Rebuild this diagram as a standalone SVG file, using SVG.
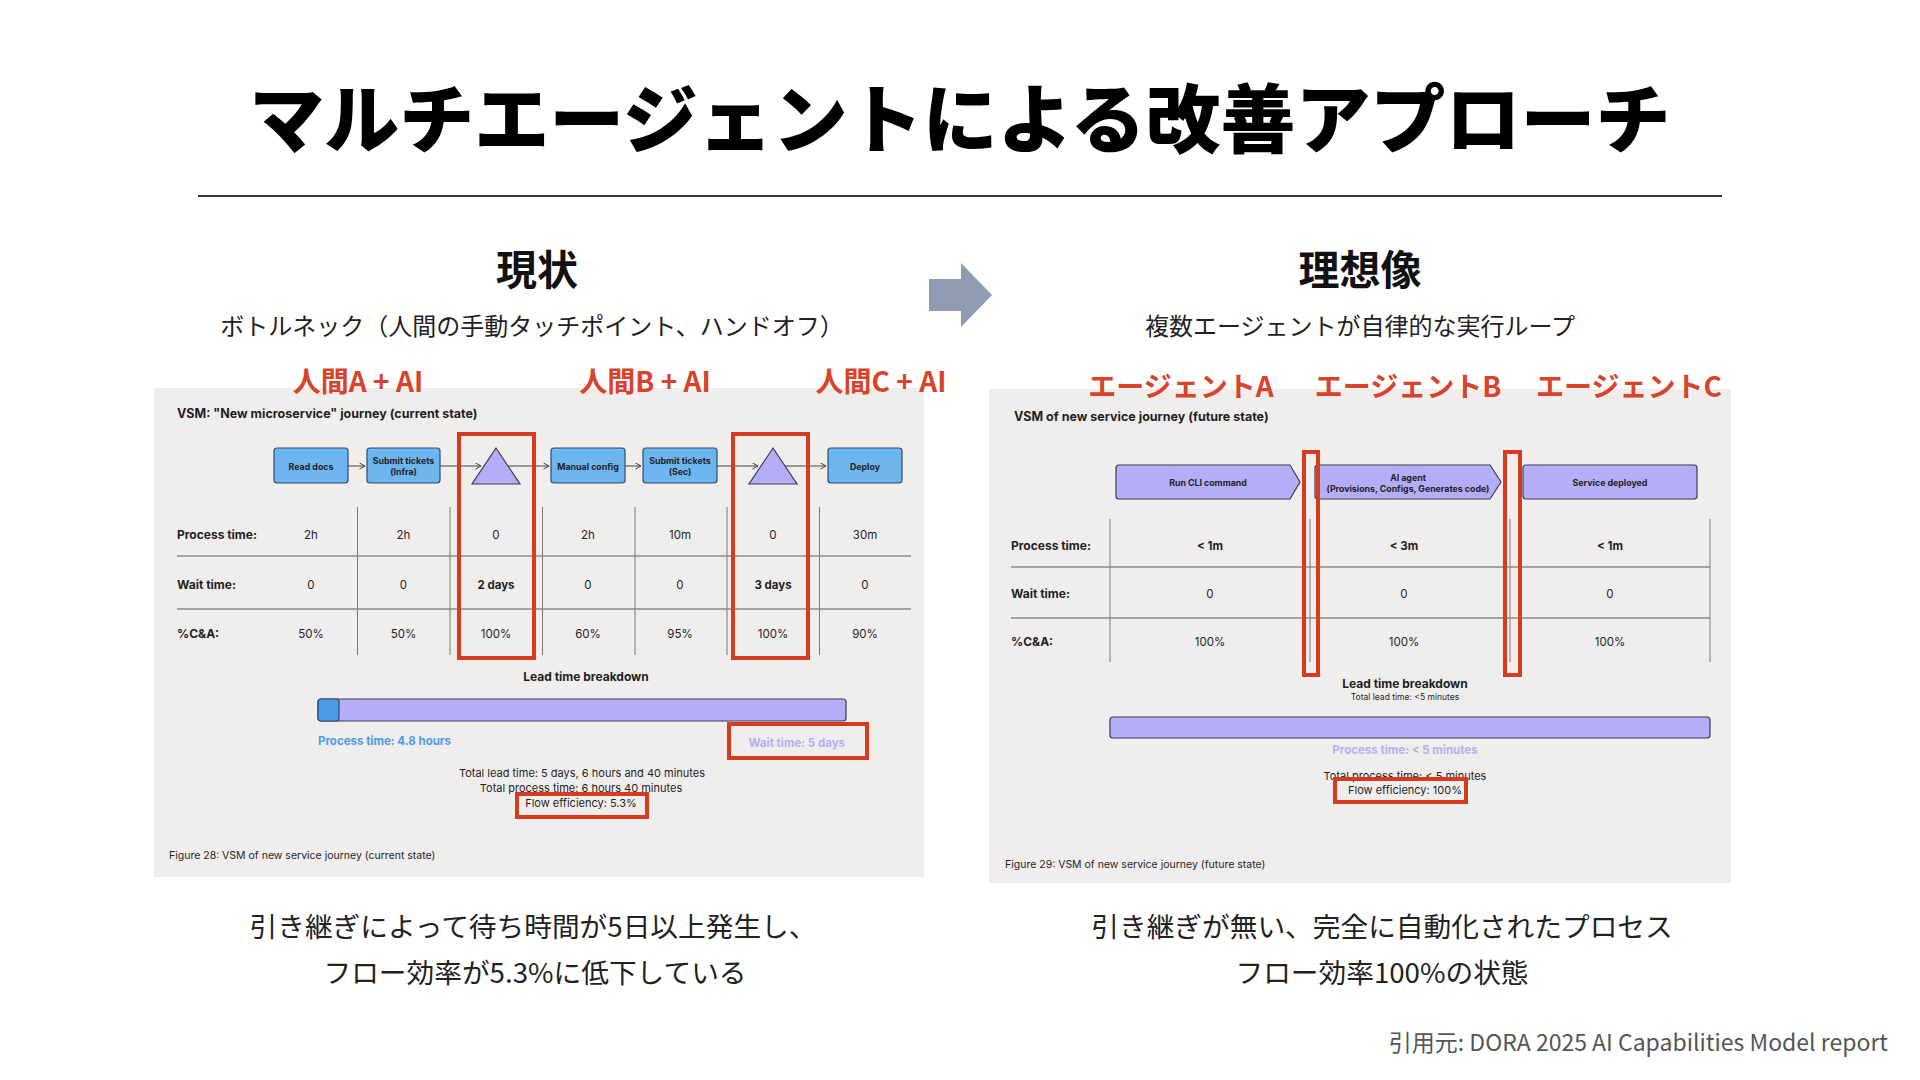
<svg xmlns="http://www.w3.org/2000/svg" width="1920" height="1080" viewBox="0 0 1920 1080">
<style>
.jp{font-family:"Noto Sans CJK JP","Noto Sans",sans-serif}
.title{font-size:75px;font-weight:900;fill:#000}
.head{font-size:41px;font-weight:700;fill:#111}
.sub{font-size:24px;font-weight:400;fill:#222}
.lbl{font-size:28px;font-weight:700;fill:#D8432A}
.cap{font-size:27.7px;font-weight:400;fill:#222}
.cite{font-size:23px;font-weight:400;fill:#555}
.panel{fill:#EFEEEC}
.s{font-family:Inter,Roboto,"Liberation Sans",sans-serif;fill:#1f1f1f}
.b{font-weight:700}
.m{text-anchor:middle}
.e{text-anchor:end}
.f125{font-size:12.5px}
.f12{font-size:12px}
.f115{font-size:11.5px}
.f11{font-size:11px}
.f10{font-size:10.5px}
.f9{font-size:8.8px}
.f8{font-size:8.5px}
.red{fill:none;stroke:#D63B1F;stroke-width:4}
.grid{stroke:#7a7a7a;stroke-width:1}
.hline{stroke:#8a8a8a;stroke-width:1.5}
.vbox{fill:#6CB5EF;stroke:#2F4B6E;stroke-width:1.2}
.lav{fill:#B3AEF7;stroke:#3B3B55;stroke-width:1.2}
.conn{stroke:#444;stroke-width:1;fill:none}
.blue{fill:#4A9BE6}
.lavt{fill:#B7AFF2}
</style>
<defs>
<marker id="ah" markerUnits="userSpaceOnUse" markerWidth="8" markerHeight="8" refX="6" refY="3.5" orient="auto">
<path d="M0.5,0.5 L6,3.5 L0.5,6.5" fill="none" stroke="#444" stroke-width="1"/>
</marker>
</defs>
<rect width="1920" height="1080" fill="#fff"/>

<g id="title">
<text class="jp title m" x="960" y="147">マルチエージェントによる改善アプローチ</text>
<line x1="198" y1="196" x2="1722" y2="196" stroke="#333" stroke-width="2"/>
</g>

<g id="heading-current">
<text class="jp head m" x="537" y="285">現状</text>
<text class="jp sub m" x="532" y="335">ボトルネック（人間の手動タッチポイント、ハンドオフ）</text>
</g>
<g id="heading-future">
<text class="jp head m" x="1360" y="285">理想像</text>
<text class="jp sub m" x="1360" y="335">複数エージェントが自律的な実行ループ</text>
</g>

<g id="transition-arrow">
<polygon points="929,279 961,279 961,263 992,295 961,327 961,311 929,311" fill="#8E9BB1"/>
</g>

<!-- Left panel: current state VSM -->
<g id="panel-current">
<rect class="panel" x="154" y="388" width="770" height="489"/>
<text class="s b f125" x="177" y="418">VSM: "New microservice" journey (current state)</text>

<g id="node-read-docs">
<rect class="vbox" x="274" y="448" width="74" height="35" rx="3"/>
<text class="s b f9 m" x="311" y="469.5">Read docs</text>
</g>
<g id="node-submit-infra">
<rect class="vbox" x="367" y="448" width="73" height="35" rx="3"/>
<text class="s b f9 m" x="403.5" y="463.5">Submit tickets</text>
<text class="s b f9 m" x="403.5" y="474.5">(Infra)</text>
</g>
<g id="node-wait-1">
<polygon class="lav" points="496,448 520,484 472,484"/>
</g>
<g id="node-manual-config">
<rect class="vbox" x="551" y="448" width="74" height="35" rx="3"/>
<text class="s b f9 m" x="588" y="469.5">Manual config</text>
</g>
<g id="node-submit-sec">
<rect class="vbox" x="643" y="448" width="74" height="35" rx="3"/>
<text class="s b f9 m" x="680" y="463.5">Submit tickets</text>
<text class="s b f9 m" x="680" y="474.5">(Sec)</text>
</g>
<g id="node-wait-2">
<polygon class="lav" points="773,448 797,484 749,484"/>
</g>
<g id="node-deploy">
<rect class="vbox" x="828" y="448" width="74" height="35" rx="3"/>
<text class="s b f9 m" x="865" y="469.5">Deploy</text>
</g>

<g id="table-current">
<line class="grid" x1="357.5" y1="507" x2="357.5" y2="655"/>
<line class="grid" x1="450" y1="507" x2="450" y2="655"/>
<line class="grid" x1="542.5" y1="507" x2="542.5" y2="655"/>
<line class="grid" x1="635" y1="507" x2="635" y2="655"/>
<line class="grid" x1="727" y1="507" x2="727" y2="655"/>
<line class="grid" x1="819.5" y1="507" x2="819.5" y2="655"/>
<line class="hline" x1="177" y1="556" x2="911" y2="556"/>
<line class="hline" x1="177" y1="609" x2="911" y2="609"/>
<text class="s b f12" x="177" y="539">Process time:</text>
<text class="s b f12" x="177" y="589">Wait time:</text>
<text class="s b f12" x="177" y="638">%C&amp;A:</text>
<g class="s f115 m">
<text x="311" y="539">2h</text><text x="403.5" y="539">2h</text><text x="496" y="539">0</text><text x="588" y="539">2h</text><text x="680" y="539">10m</text><text x="773" y="539">0</text><text x="865" y="539">30m</text>
<text x="311" y="589">0</text><text x="403.5" y="589">0</text><text class="b" x="496" y="589">2 days</text><text x="588" y="589">0</text><text x="680" y="589">0</text><text class="b" x="773" y="589">3 days</text><text x="865" y="589">0</text>
<text x="311" y="638">50%</text><text x="403.5" y="638">50%</text><text x="496" y="638">100%</text><text x="588" y="638">60%</text><text x="680" y="638">95%</text><text x="773" y="638">100%</text><text x="865" y="638">90%</text>
</g>
</g>

<g id="leadtime-current">
<text class="s b f12 m" x="586" y="681">Lead time breakdown</text>
<rect class="lav" x="318" y="699" width="528" height="22" rx="3"/>
<rect x="318" y="699" width="21" height="22" rx="3" fill="#4A9BE6" stroke="#2F4B6E" stroke-width="1.2"/>
<text class="s b f115 blue" x="318" y="745">Process time: 4.8 hours</text>
<text class="s b f115 lavt e" x="845" y="747">Wait time: 5 days</text>
<text class="s f11 m" x="582" y="777">Total lead time: 5 days, 6 hours and 40 minutes</text>
<text class="s f11 m" x="581" y="792">Total process time: 6 hours 40 minutes</text>
<text class="s f11 m" x="581" y="807">Flow efficiency:  5.3%</text>
<text class="s f10" x="169" y="859">Figure 28: VSM of new service journey (current state)</text>
</g>
</g>

<!-- Right panel: future state VSM -->
<g id="panel-future">
<rect class="panel" x="989" y="389" width="742" height="494"/>
<text class="s b f125" x="1014" y="421">VSM of new service journey (future state)</text>

<g id="node-run-cli">
<path class="lav" d="M1119,465 L1290,465 L1300,482 L1290,499 L1119,499 Q1116,499 1116,496 L1116,468 Q1116,465 1119,465 Z"/>
<text class="s b f9 m" x="1208" y="486">Run CLI command</text>
</g>
<g id="node-ai-agent">
<path class="lav" d="M1318,465 L1490,465 L1501,482 L1490,499 L1318,499 Q1315,499 1315,496 L1315,468 Q1315,465 1318,465 Z"/>
<text class="s b f9 m" x="1408" y="480.5">AI agent</text>
<text class="s b f9 m" x="1408" y="491.5">(Provisions, Configs, Generates code)</text>
</g>
<g id="node-service-deployed">
<rect class="lav" x="1523" y="465" width="174" height="34" rx="3"/>
<text class="s b f9 m" x="1610" y="485.5">Service deployed</text>
</g>

<g id="table-future">
<line class="grid" x1="1110" y1="519" x2="1110" y2="662"/>
<line class="grid" x1="1310" y1="519" x2="1310" y2="662"/>
<line class="grid" x1="1510" y1="519" x2="1510" y2="662"/>
<line class="grid" x1="1710" y1="519" x2="1710" y2="662"/>
<line class="hline" x1="1011" y1="567" x2="1710" y2="567"/>
<line class="hline" x1="1011" y1="618" x2="1710" y2="618"/>
<text class="s b f12" x="1011" y="550">Process time:</text>
<text class="s b f12" x="1011" y="598">Wait time:</text>
<text class="s b f12" x="1011" y="646">%C&amp;A:</text>
<g class="s f115 m">
<text class="b" x="1210" y="550">&lt; 1m</text><text class="b" x="1404" y="550">&lt; 3m</text><text class="b" x="1610" y="550">&lt; 1m</text>
<text x="1210" y="598">0</text><text x="1404" y="598">0</text><text x="1610" y="598">0</text>
<text x="1210" y="646">100%</text><text x="1404" y="646">100%</text><text x="1610" y="646">100%</text>
</g>
</g>

<g id="leadtime-future">
<text class="s b f12 m" x="1405" y="688">Lead time breakdown</text>
<text class="s f8 m" x="1405" y="700">Total lead time: &lt;5 minutes</text>
<rect class="lav" x="1110" y="717" width="600" height="21" rx="3"/>
<text class="s b f115 lavt m" x="1405" y="754">Process time: &lt; 5 minutes</text>
<text class="s f11 m" x="1405" y="780">Total process time: &lt; 5 minutes</text>
<text class="s f11 m" x="1405" y="794">Flow efficiency: 100%</text>
<text class="s f10" x="1005" y="868">Figure 29: VSM of new service journey (future state)</text>
</g>
</g>

<g id="connectors">
<line class="conn" x1="348" y1="466" x2="365" y2="466" marker-end="url(#ah)"/>
<line class="conn" x1="440" y1="466" x2="481" y2="466" marker-end="url(#ah)"/>
<line class="conn" x1="508" y1="466" x2="549" y2="466" marker-end="url(#ah)"/>
<line class="conn" x1="625" y1="466" x2="641" y2="466" marker-end="url(#ah)"/>
<line class="conn" x1="717" y1="466" x2="758" y2="466" marker-end="url(#ah)"/>
<line class="conn" x1="785" y1="466" x2="826" y2="466" marker-end="url(#ah)"/>
</g>

<g id="highlights">
<rect class="red" x="459" y="434" width="75" height="224"/>
<rect class="red" x="733" y="434" width="75" height="224"/>
<rect class="red" x="729" y="724" width="138" height="34"/>
<rect class="red" x="517" y="794" width="130" height="23"/>
<rect class="red" x="1304" y="452" width="14" height="223"/>
<rect class="red" x="1505" y="452" width="15" height="223"/>
<rect class="red" x="1335" y="779" width="131" height="23"/>
</g>

<g id="labels">
<text class="jp lbl m" x="358" y="392">人間A + AI</text>
<text class="jp lbl m" x="645" y="392">人間B + AI</text>
<text class="jp lbl m" x="881" y="392">人間C + AI</text>
<text class="jp lbl m" x="1181" y="397">エージェントA</text>
<text class="jp lbl m" x="1408" y="397">エージェントB</text>
<text class="jp lbl m" x="1629" y="397">エージェントC</text>
</g>

<g id="captions">
<text class="jp cap m" x="533" y="937">引き継ぎによって待ち時間が5日以上発生し、</text>
<text class="jp cap m" x="535" y="983">フロー効率が5.3%に低下している</text>
<text class="jp cap m" x="1382" y="937">引き継ぎが無い、完全に自動化されたプロセス</text>
<text class="jp cap m" x="1382" y="983">フロー効率100%の状態</text>
<text class="jp cite e" x="1888" y="1051">引用元: DORA 2025 AI Capabilities Model report</text>
</g>
</svg>
